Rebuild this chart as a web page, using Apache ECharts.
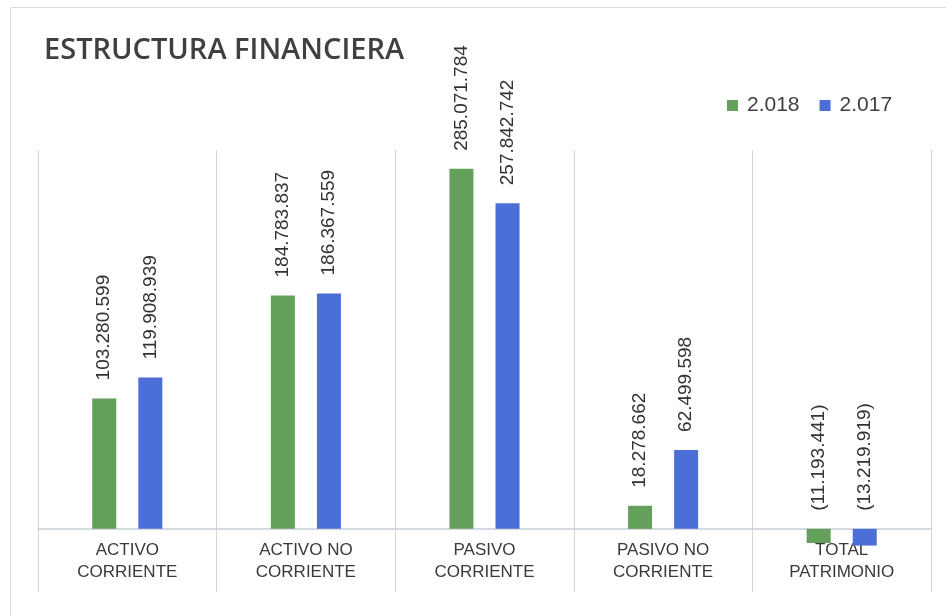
<!DOCTYPE html>
<html>
<head>
<meta charset="utf-8">
<script src="https://cdn.jsdelivr.net/npm/echarts@6/dist/echarts.min.js"></script>
<style>
  html, body { margin: 0; padding: 0; background: #fff; }
  #chart { width: 946px; height: 616px; }
</style>
</head>
<body>
<div id="chart"></div>
<script>
// categories and values
const categories = [
  'ACTIVO\nCORRIENTE',
  'ACTIVO NO\nCORRIENTE',
  'PASIVO\nCORRIENTE',
  'PASIVO NO\nCORRIENTE',
  'TOTAL\nPATRIMONIO'
];
const values2018 = [103280599, 184783837, 285071784, 18278662, -11193441];
const values2017 = [119908939, 186367559, 257842742, 62499598, -13219919];
const seriesNames = ['2.018', '2.017'];

// 1234567 -> "1.234.567", negatives in parentheses
function fmt(v) {
  const s = Math.abs(v).toString().replace(/\B(?=(\d{3})+(?!\d))/g, '.');
  return v < 0 ? '(' + s + ')' : s;
}

const myChart = echarts.init(document.getElementById('chart'));

const labelStyle = {
  show: true,
  position: 'top',
  rotate: 90,
  align: 'left',
  verticalAlign: 'middle',
  distance: 18,
  fontFamily: 'Liberation Sans',
  fontSize: 19,
  color: '#333',
  formatter: (p) => fmt(p.value)
};

const option = {
  animation: false,
  backgroundColor: '#fff',
  graphic: [
    { type: 'line', shape: { x1: 10.5, y1: 7.5, x2: 946, y2: 7.5 }, style: { stroke: '#dcdcdc', lineWidth: 1 } },
    { type: 'line', shape: { x1: 10.5, y1: 7.5, x2: 10.5, y2: 616 }, style: { stroke: '#dcdcdc', lineWidth: 1 } }
  ],
  title: {
    text: 'ESTRUCTURA FINANCIERA',
    left: 39,
    top: 31,
    textStyle: {
      fontFamily: 'Open Sans',
      fontWeight: 600,
      fontSize: 29,
      color: '#404040'
    }
  },
  legend: {
    data: seriesNames,
    left: 722,
    top: 90,
    icon: 'rect',
    itemWidth: 11,
    itemHeight: 11,
    itemGap: 20,
    textStyle: {
      fontFamily: 'Liberation Sans',
      fontSize: 21,
      color: '#404040',
      padding: [0, 0, 0, 4]
    }
  },
  grid: {
    left: 38,
    right: 15,
    top: 150,
    bottom: 24,
    outerBoundsMode: 'none'
  },
  xAxis: {
    type: 'category',
    data: categories,
    // axis sits on the zero value (63px above the grid bottom)
    offset: -63,
    axisTick: { show: false },
    axisLine: {
      onZero: false,
      lineStyle: { color: '#c9cdd8', width: 1.5 }
    },
    splitLine: {
      show: true,
      interval: 0,
      lineStyle: { color: '#d4d4d4', width: 1 }
    },
    axisLabel: {
      interval: 0,
      margin: 10,
      lineHeight: 22,
      fontFamily: 'Liberation Sans',
      fontSize: 17,
      color: '#3a3a3a'
    }
  },
  yAxis: {
    type: 'value',
    min: -50000000,
    max: 300000000,
    show: false,
    splitLine: { show: false }
  },
  series: [
    {
      name: seriesNames[0],
      type: 'bar',
      barWidth: 24,
      barGap: '92%',
      itemStyle: { color: '#64a05c' },
      label: labelStyle,
      data: values2018
    },
    {
      name: seriesNames[1],
      type: 'bar',
      barWidth: 24,
      barGap: '92%',
      itemStyle: { color: '#4b6fd6' },
      label: labelStyle,
      data: values2017
    }
  ]
};

myChart.setOption(option);
</script>
</body>
</html>
